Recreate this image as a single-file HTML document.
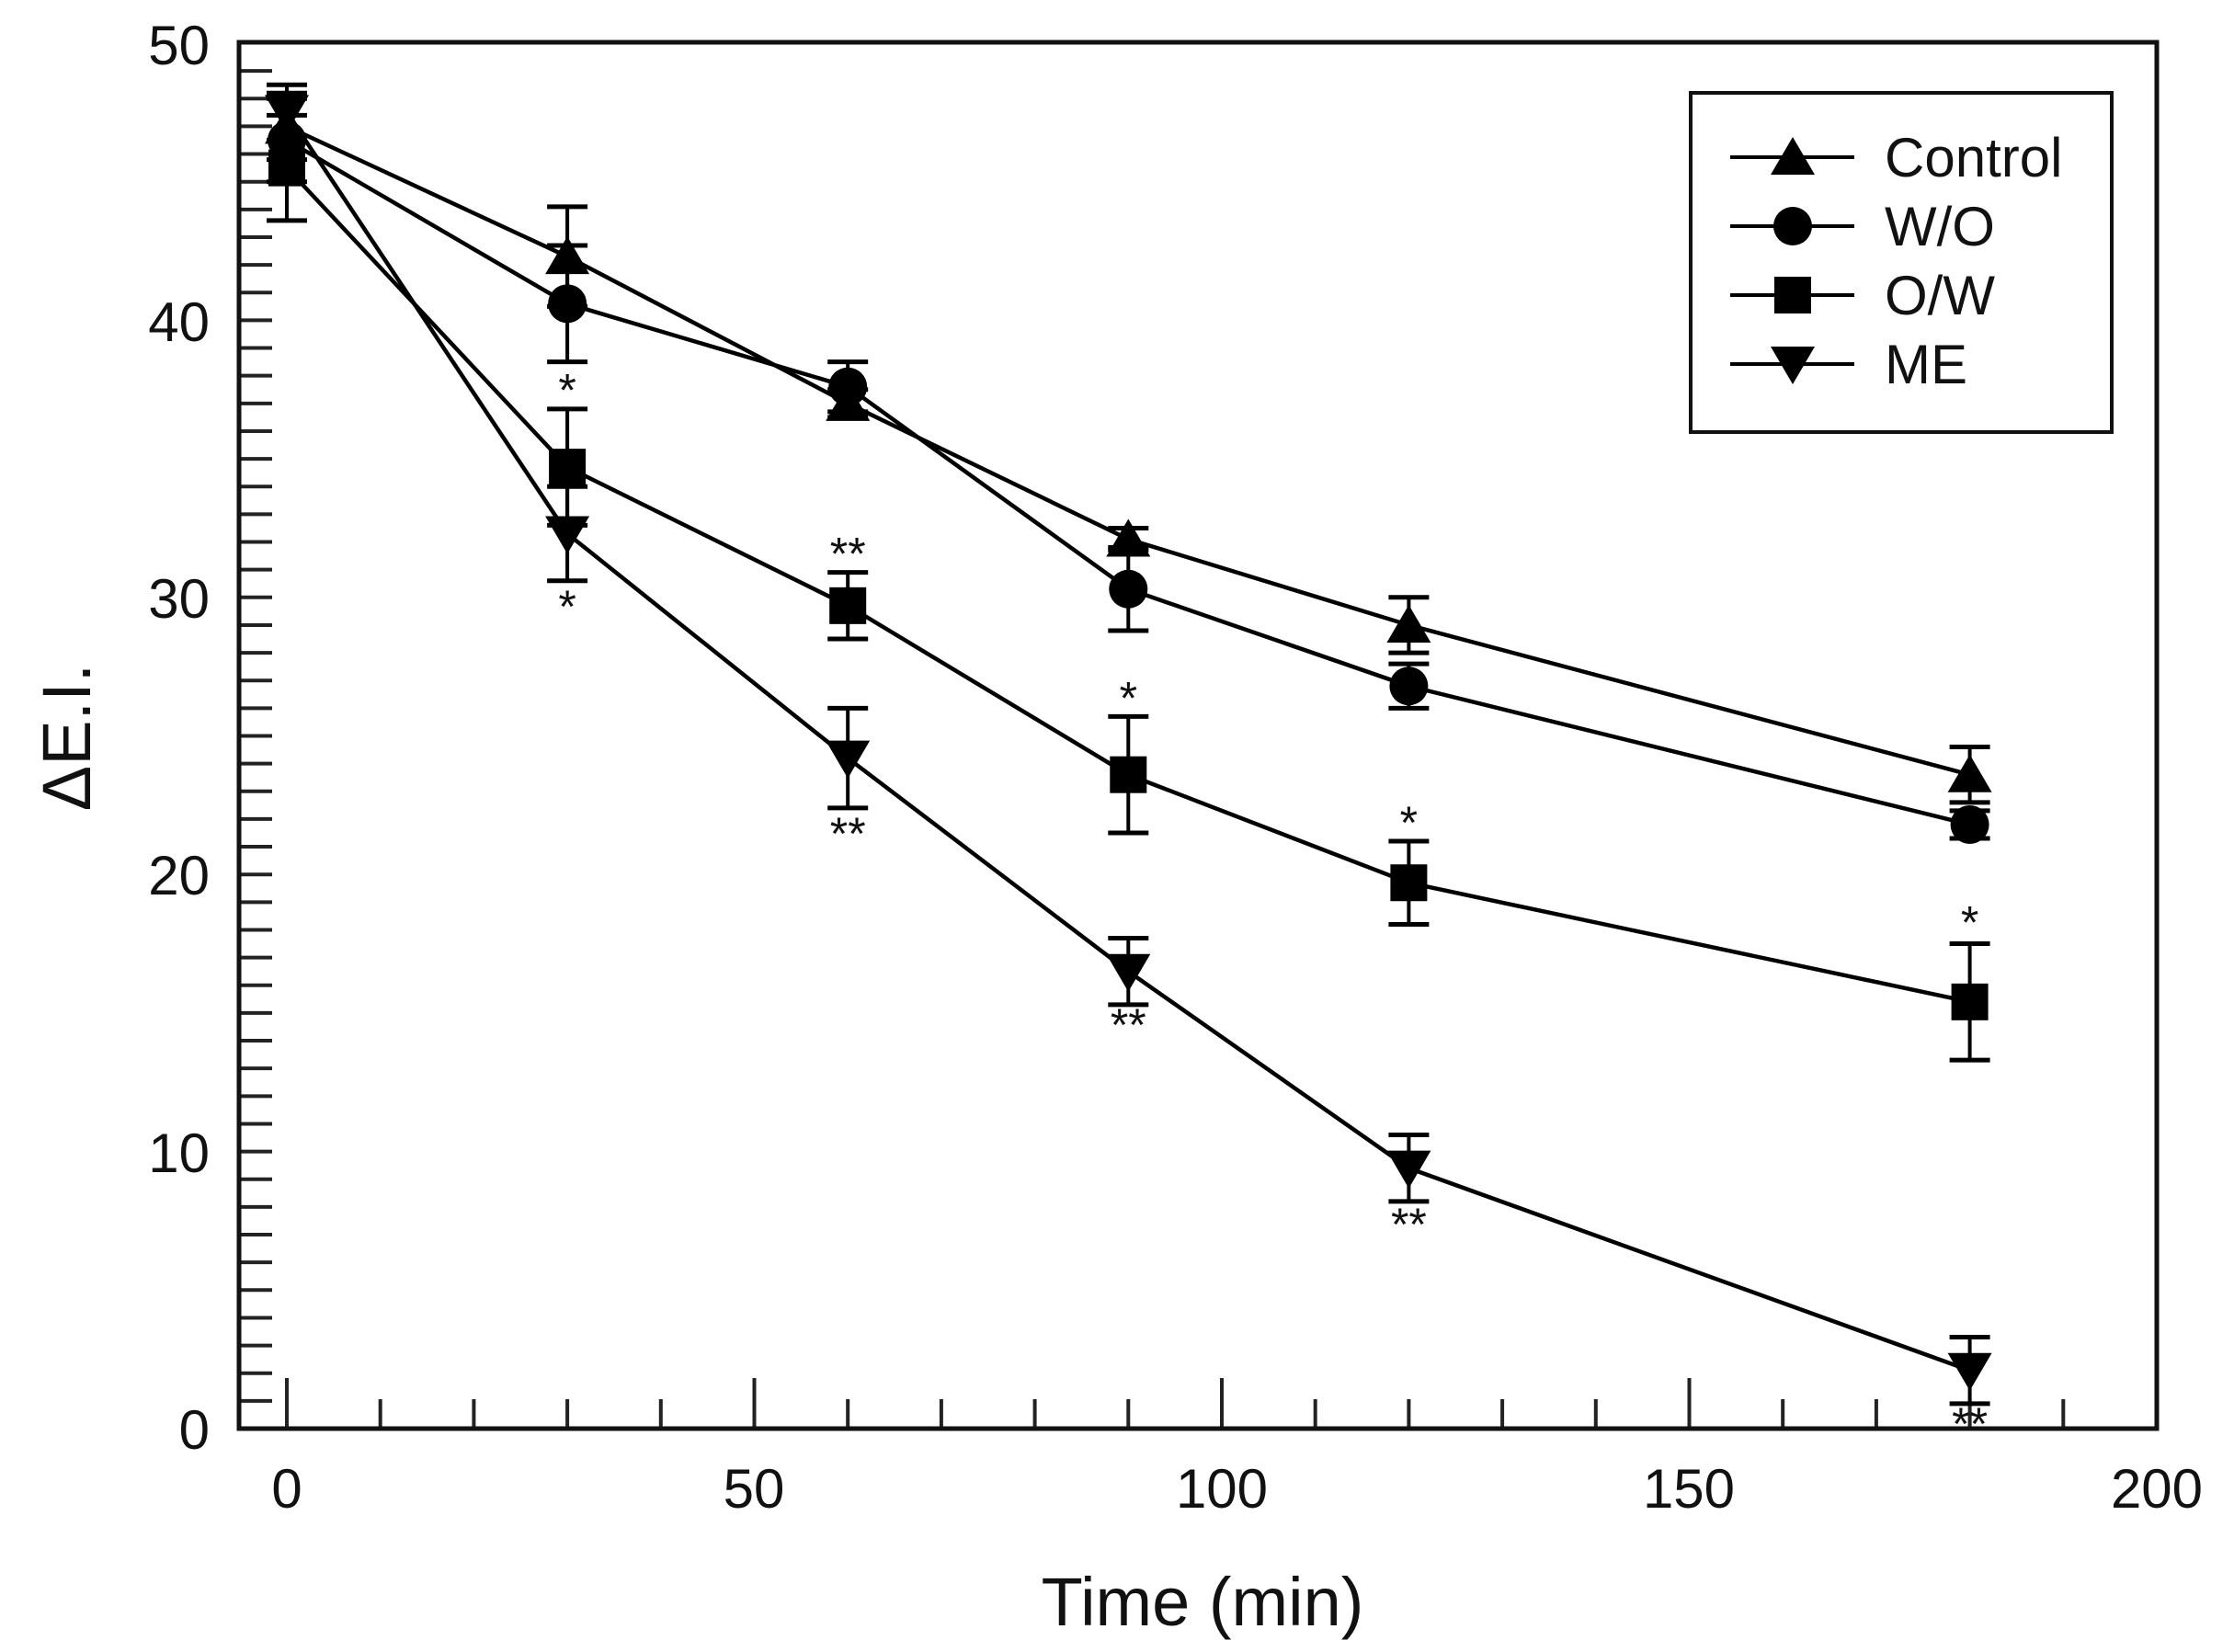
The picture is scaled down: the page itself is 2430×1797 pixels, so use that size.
<!DOCTYPE html>
<html><head><meta charset="utf-8"><style>
html,body{margin:0;padding:0;background:#fff;}
svg{display:block;font-family:"Liberation Sans",Arial,sans-serif;}
</style></head><body>
<svg id="s" width="2430" height="1797" viewBox="0 0 2430 1797" xmlns="http://www.w3.org/2000/svg">
<rect width="2430" height="1797" fill="#fff"/>
<g id="ticks" stroke="#222" stroke-width="4"></g>
<rect x="260" y="46" width="2086" height="1508" fill="none" stroke="#111" stroke-width="5"/>
<g font-size="60" fill="#111" text-anchor="end">
<text x="228" y="1576">0</text><text x="228" y="1275">10</text><text x="228" y="973">20</text>
<text x="228" y="672">30</text><text x="228" y="371">40</text><text x="228" y="70">50</text>
</g>
<g font-size="60" fill="#111" text-anchor="middle">
<text x="312" y="1640">0</text><text x="820" y="1640">50</text><text x="1329" y="1640">100</text>
<text x="1837" y="1640">150</text><text x="2346" y="1640">200</text>
</g>
<text x="1308" y="1768" font-size="74" text-anchor="middle" fill="#111">Time (min)</text>
<text transform="translate(98,802) rotate(-90)" font-size="74" text-anchor="middle" fill="#111">ΔE.I.</text>
<g id="data"></g>
<g id="stars" font-size="50" fill="#111" text-anchor="middle"></g>
<rect x="1839" y="101" width="458" height="369" fill="#fff" stroke="#111" stroke-width="4"/>
<g font-size="60" fill="#111">
<text x="2050" y="192">Control</text><text x="2050" y="267">W/O</text>
<text x="2050" y="342">O/W</text><text x="2050" y="417">ME</text>
</g>
<g id="leg"></g>
</svg>
<script>
const NS="http://www.w3.org/2000/svg";
const X=t=>312+10.17*t, Y=v=>1554-30.14*v;
function el(p,n,a){const e=document.createElementNS(NS,n);for(const k in a)e.setAttribute(k,a[k]);document.getElementById(p).appendChild(e);return e;}
for(let v=1;v<50;v++){el('ticks','line',{x1:260,x2:296,y1:Y(v),y2:Y(v)});}
for(let t=0;t<200;t+=10){const L=(t%50==0)?55:32;el('ticks','line',{x1:X(t),x2:X(t),y1:1554,y2:1554-L});}
function marker(g,type,x,y){
 if(type=='tri')el(g,'polygon',{points:`${x-24},${y+19} ${x+24},${y+19} ${x},${y-22}`,fill:'#000'});
 else if(type=='inv')el(g,'polygon',{points:`${x-24},${y-19} ${x+24},${y-19} ${x},${y+22}`,fill:'#000'});
 else if(type=='circ')el(g,'circle',{cx:x,cy:y,r:21,fill:'#000'});
 else el(g,'rect',{x:x-20,y:y-20,width:40,height:40,fill:'#000'});
}
const T=[0,30,60,90,120,180];
const S=[
 {m:'tri',v:[47,42.3,37.0,32.1,29.0,23.6],e:[1.2,1.8,0.5,0.4,1.0,1.0]},
 {m:'circ',v:[46.5,40.6,37.6,30.3,26.8,21.8],e:[1.5,2.1,0.9,1.5,0.8,0.5]},
 {m:'sq',v:[45.5,34.7,29.7,23.6,19.7,15.4],e:[1.9,2.1,1.2,2.1,1.5,2.1]},
 {m:'inv',v:[47.5,32.3,24.2,16.5,9.4,2.1],e:[1.0,1.7,1.8,1.2,1.2,1.2]}
];
S.forEach(s=>{
 el('data','polyline',{points:T.map((t,i)=>X(t)+','+Y(s.v[i])).join(' '),fill:'none',stroke:'#000','stroke-width':4.5});
 T.forEach((t,i)=>{const x=X(t),a=Y(s.v[i]+s.e[i]),b=Y(s.v[i]-s.e[i]);
  el('data','line',{x1:x,x2:x,y1:a,y2:b,stroke:'#000','stroke-width':4});
  el('data','line',{x1:x-22,x2:x+22,y1:a,y2:a,stroke:'#000','stroke-width':5});
  el('data','line',{x1:x-22,x2:x+22,y1:b,y2:b,stroke:'#000','stroke-width':5});
 });
});
S.forEach(s=>T.forEach((t,i)=>marker('data',s.m,X(t),Y(s.v[i]))));
const st=[[30,37.7,'*'],[60,31.8,'**'],[90,26.6,'*'],[120,22.1,'*'],[180,18.5,'*'],
 [30,29.9,'*'],[60,21.7,'**'],[90,14.8,'**'],[120,7.6,'**'],[180,0.4,'**']];
st.forEach(([t,v,s])=>{const e=el('stars','text',{x:X(t),y:Y(v)+24});e.textContent=s;});
const rows=[['tri',171],['circ',246],['sq',321],['inv',396]];
rows.forEach(([m,y])=>{el('leg','line',{x1:1882,x2:2017,y1:y,y2:y,stroke:'#000','stroke-width':4});marker('leg',m,1950,y);});
</script>
</body></html>
